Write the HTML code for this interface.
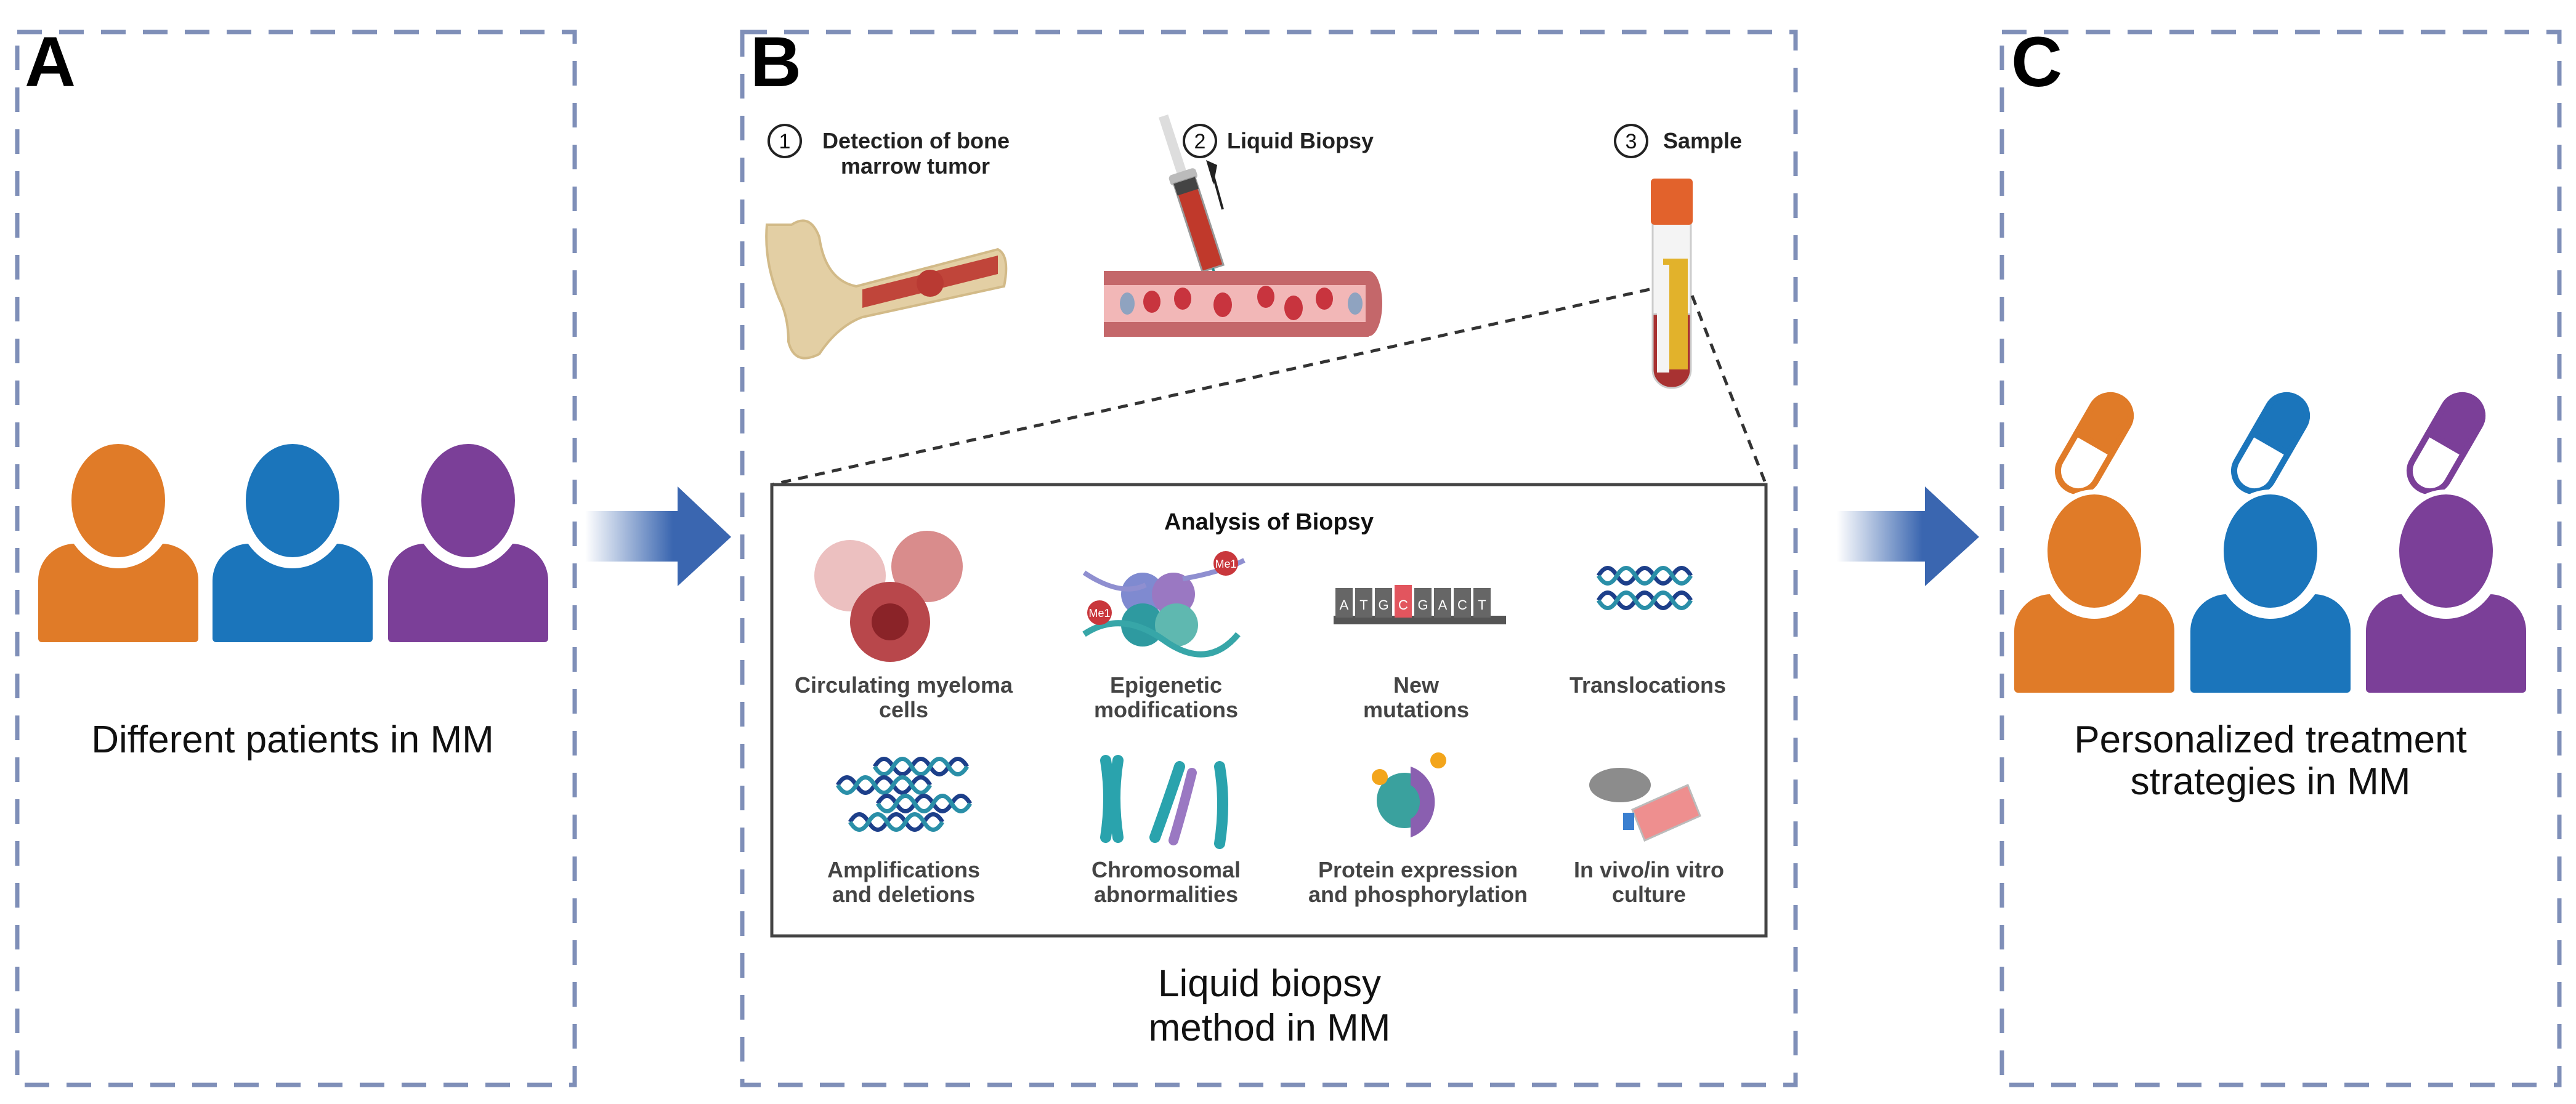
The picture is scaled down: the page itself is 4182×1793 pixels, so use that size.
<!DOCTYPE html>
<html><head><meta charset="utf-8"><style>
html,body{margin:0;padding:0;background:#fff}
svg{display:block}
text{font-family:"Liberation Sans",sans-serif}
</style></head><body>
<svg width="4182" height="1793" viewBox="0 0 4182 1793" xmlns="http://www.w3.org/2000/svg">
<defs>
<linearGradient id="ag" x1="0" x2="1" y1="0" y2="0">
<stop offset="0" stop-color="#3a66b0" stop-opacity="0"/>
<stop offset="0.6" stop-color="#3a66b0"/>
<stop offset="1" stop-color="#3a66b0"/>
</linearGradient>
<g id="person">
<rect x="-130" y="65" width="260" height="160" rx="60" ry="60"/>
<rect x="-130" y="150" width="260" height="75" rx="6"/>
<ellipse cx="0" cy="0" rx="92" ry="105" fill="#fff"/>
<ellipse cx="0" cy="-5" rx="76" ry="92"/>
</g>
<g id="dna">
<path d="M0,0 q15,-25 30,0 t30,0 t30,0 t30,0 t30,0" fill="none" stroke="#1d3f8a" stroke-width="7"/>
<path d="M0,0 q15,25 30,0 t30,0 t30,0 t30,0 t30,0" fill="none" stroke="#2a8fa8" stroke-width="7"/>
</g>
</defs>

<g fill="none" stroke="#7f8fb8" stroke-width="7" stroke-dasharray="40,28">
<rect x="28" y="52" width="905" height="1710"/>
<rect x="1205" y="52" width="1710" height="1710"/>
<rect x="3250" y="52" width="905" height="1710"/>
</g>

<text x="40" y="140" font-size="115" font-weight="bold" fill="#000">A</text>
<text x="1218" y="140" font-size="115" font-weight="bold" fill="#000">B</text>
<text x="3265" y="140" font-size="115" font-weight="bold" fill="#000">C</text>

<g transform="translate(192,818)" fill="#e07b28"><use href="#person"/></g>
<g transform="translate(475,818)" fill="#1b75bb"><use href="#person"/></g>
<g transform="translate(760,818)" fill="#7b3f98"><use href="#person"/></g>
<text x="475" y="1222" font-size="62" text-anchor="middle" fill="#111">Different patients in MM</text>

<path d="M950,830 H1100 V790 L1187,872 L1100,952 V912 H950 Z" fill="url(#ag)"/>
<path d="M2982,830 H3125 V790 L3213,872 L3125,952 V912 H2982 Z" fill="url(#ag)"/>

<g fill="none" stroke="#222" stroke-width="4">
<circle cx="1274" cy="229" r="26"/><circle cx="1948" cy="229" r="26"/><circle cx="2648" cy="229" r="26"/>
</g>
<g font-size="34" fill="#111" text-anchor="middle">
<text x="1274" y="241">1</text><text x="1948" y="241">2</text><text x="2648" y="241">3</text>
</g>
<g font-size="36" font-weight="bold" fill="#222">
<text x="1335" y="241">Detection of bone</text>
<text x="1365" y="282">marrow tumor</text>
<text x="1992" y="241">Liquid Biopsy</text>
<text x="2700" y="241">Sample</text>
</g>

<path d="M1285,365 q30,-20 45,20 q10,70 60,80 l230,-60 q20,10 10,60 l-230,50 q-40,15 -70,60 q-40,20 -50,-20 q0,-40 -15,-70 q-25,-60 -20,-120z" fill="#e3cfa4" stroke="#d2ba88" stroke-width="4"/>
<path d="M1400,470 l220,-55 v30 l-220,55z" fill="#c0453a"/>
<circle cx="1510" cy="460" r="22" fill="#b93a33"/>

<g transform="rotate(-18 1940 340)">
<rect x="1930" y="180" width="16" height="100" fill="#ddd"/>
<rect x="1915" y="275" width="46" height="18" rx="6" fill="#bbb"/>
<rect x="1920" y="290" width="36" height="150" fill="#c0392b" stroke="#999" stroke-width="3"/>
<rect x="1920" y="290" width="36" height="20" fill="#444"/>
<line x1="1938" y1="440" x2="1938" y2="500" stroke="#2a8a8a" stroke-width="4"/>
</g>
<path d="M1970,300 l-12,-40 l18,8z" fill="#222"/><line x1="1985" y1="340" x2="1967" y2="275" stroke="#222" stroke-width="4"/>

<rect x="1792" y="440" width="430" height="107" fill="#c4676a"/>
<ellipse cx="2222" cy="493" rx="22" ry="53" fill="#c4676a"/>
<rect x="1792" y="463" width="425" height="60" fill="#f2b7b7"/>
<g fill="#c8343e"><ellipse cx="1870" cy="490" rx="14" ry="18"/><ellipse cx="1920" cy="485" rx="14" ry="18"/><ellipse cx="1985" cy="495" rx="15" ry="20"/><ellipse cx="2055" cy="482" rx="14" ry="18"/><ellipse cx="2100" cy="500" rx="15" ry="20"/><ellipse cx="2150" cy="485" rx="14" ry="18"/></g>
<g fill="#8fa3c0"><ellipse cx="1830" cy="493" rx="12" ry="18"/><ellipse cx="2200" cy="493" rx="12" ry="18"/></g>

<rect x="2683" y="350" width="62" height="280" rx="30" fill="#a83232" stroke="#ccc" stroke-width="3"/>
<rect x="2683" y="350" width="62" height="160" fill="#f4f4f4" stroke="#ccc" stroke-width="3"/>
<rect x="2700" y="420" width="40" height="180" fill="#e2b22b"/>
<rect x="2690" y="430" width="20" height="175" fill="#f4f4f4"/>
<rect x="2680" y="290" width="68" height="75" rx="6" fill="#e2622c"/>

<g stroke="#333" stroke-width="5" stroke-dasharray="16,12" fill="none">
<line x1="2678" y1="470" x2="1253" y2="787"/>
<line x1="2747" y1="480" x2="2867" y2="787"/>
</g>

<rect x="1253" y="787" width="1614" height="733" fill="#fff" stroke="#444" stroke-width="5"/>
<text x="2060" y="860" font-size="38" font-weight="bold" text-anchor="middle" fill="#111">Analysis of Biopsy</text>

<circle cx="1380" cy="935" r="58" fill="#ecc0c0"/>
<circle cx="1505" cy="920" r="58" fill="#d98c8c"/>
<circle cx="1445" cy="1010" r="65" fill="#b8474b"/>
<circle cx="1445" cy="1010" r="30" fill="#8a2328"/>
<g>
<circle cx="1855" cy="965" r="35" fill="#7f8ad0"/><circle cx="1905" cy="965" r="35" fill="#9a78c2"/>
<circle cx="1855" cy="1015" r="35" fill="#2e9aa0"/><circle cx="1910" cy="1015" r="35" fill="#5fb8b0"/>
<path d="M1760,930 q60,40 100,20 M1920,940 q60,-10 100,-30" stroke="#8f8fd0" stroke-width="8" fill="none"/>
<path d="M1760,1030 q60,-40 130,10 t120,-10" stroke="#37a6a8" stroke-width="10" fill="none"/>
<circle cx="1990" cy="915" r="20" fill="#c9373c"/><circle cx="1785" cy="995" r="20" fill="#c9373c"/>
<text x="1990" y="922" font-size="18" fill="#fff" text-anchor="middle">Me1</text>
<text x="1785" y="1002" font-size="18" fill="#fff" text-anchor="middle">Me1</text>
</g>
<g>
<rect x="2165" y="1000" width="280" height="14" fill="#555"/>
<g fill="#666"><rect x="2168" y="955" width="28" height="48"/><rect x="2200" y="955" width="28" height="48"/><rect x="2232" y="955" width="28" height="48"/><rect x="2296" y="955" width="28" height="48"/><rect x="2328" y="955" width="28" height="48"/><rect x="2360" y="955" width="28" height="48"/><rect x="2392" y="955" width="28" height="48"/></g>
<rect x="2264" y="950" width="28" height="53" fill="#e2555e"/>
<g font-size="22" fill="#fff" text-anchor="middle"><text x="2182" y="990">A</text><text x="2214" y="990">T</text><text x="2246" y="990">G</text><text x="2278" y="990">C</text><text x="2310" y="990">G</text><text x="2342" y="990">A</text><text x="2374" y="990">C</text><text x="2406" y="990">T</text></g>
</g>
<use href="#dna" x="2595" y="935"/><use href="#dna" x="2595" y="975"/>

<use href="#dna" x="1420" y="1245"/><use href="#dna" x="1360" y="1275"/><use href="#dna" x="1425" y="1305"/><use href="#dna" x="1380" y="1335"/>
<g stroke="#2aa3ad" stroke-width="18" stroke-linecap="round" fill="none">
<path d="M1795,1235 q10,60 0,125 M1815,1235 q-10,60 0,125"/>
<path d="M1915,1245 q-20,60 -40,115"/>
<path d="M1980,1245 q10,60 0,125"/>
</g>
<path d="M1935,1255 q-15,60 -30,110" stroke="#9a78c2" stroke-width="16" stroke-linecap="round" fill="none"/>
<circle cx="2280" cy="1300" r="45" fill="#3aa19e"/>
<path d="M2290,1245 a55,60 0 0 1 0,115 l0,-30 a25,30 0 0 0 0,-55z" fill="#8a5fb0"/>
<circle cx="2335" cy="1235" r="13" fill="#f3a51b"/><circle cx="2240" cy="1262" r="13" fill="#f3a51b"/>
<ellipse cx="2630" cy="1275" rx="50" ry="28" fill="#8c8c8c"/>
<path d="M2650,1315 l90,-40 l20,50 l-90,40z" fill="#ee8f8f" stroke="#bbb" stroke-width="3"/>
<rect x="2635" y="1320" width="18" height="28" fill="#3a7fd0"/>

<g font-size="36" font-weight="bold" fill="#444" text-anchor="middle">
<text x="1467" y="1125">Circulating myeloma</text><text x="1467" y="1165">cells</text>
<text x="1893" y="1125">Epigenetic</text><text x="1893" y="1165">modifications</text>
<text x="2299" y="1125">New</text><text x="2299" y="1165">mutations</text>
<text x="2675" y="1125">Translocations</text>
<text x="1467" y="1425">Amplifications</text><text x="1467" y="1465">and deletions</text>
<text x="1893" y="1425">Chromosomal</text><text x="1893" y="1465">abnormalities</text>
<text x="2302" y="1425">Protein expression</text><text x="2302" y="1465">and phosphorylation</text>
<text x="2677" y="1425">In vivo/in vitro</text><text x="2677" y="1465">culture</text>
</g>
<g font-size="62" fill="#111" text-anchor="middle">
<text x="2061" y="1618">Liquid biopsy</text><text x="2061" y="1690">method in MM</text>
</g>

<g stroke-width="10">
<g transform="translate(3400,720) rotate(30)"><rect x="-33" y="-85" width="66" height="170" rx="33" fill="#fff" stroke="#e07b28"/><path d="M-33,0 V-52 a33,33 0 0 1 66,0 V0z" fill="#e07b28" stroke="#e07b28"/></g>
<g transform="translate(3686,720) rotate(30)"><rect x="-33" y="-85" width="66" height="170" rx="33" fill="#fff" stroke="#1b75bb"/><path d="M-33,0 V-52 a33,33 0 0 1 66,0 V0z" fill="#1b75bb" stroke="#1b75bb"/></g>
<g transform="translate(3971,720) rotate(30)"><rect x="-33" y="-85" width="66" height="170" rx="33" fill="#fff" stroke="#7b3f98"/><path d="M-33,0 V-52 a33,33 0 0 1 66,0 V0z" fill="#7b3f98" stroke="#7b3f98"/></g>
</g>
<g transform="translate(3400,900)" fill="#e07b28"><use href="#person"/></g>
<g transform="translate(3686,900)" fill="#1b75bb"><use href="#person"/></g>
<g transform="translate(3971,900)" fill="#7b3f98"><use href="#person"/></g>
<g font-size="62" fill="#111" text-anchor="middle">
<text x="3686" y="1222">Personalized treatment</text><text x="3686" y="1290">strategies in MM</text>
</g>
</svg>
</body></html>
